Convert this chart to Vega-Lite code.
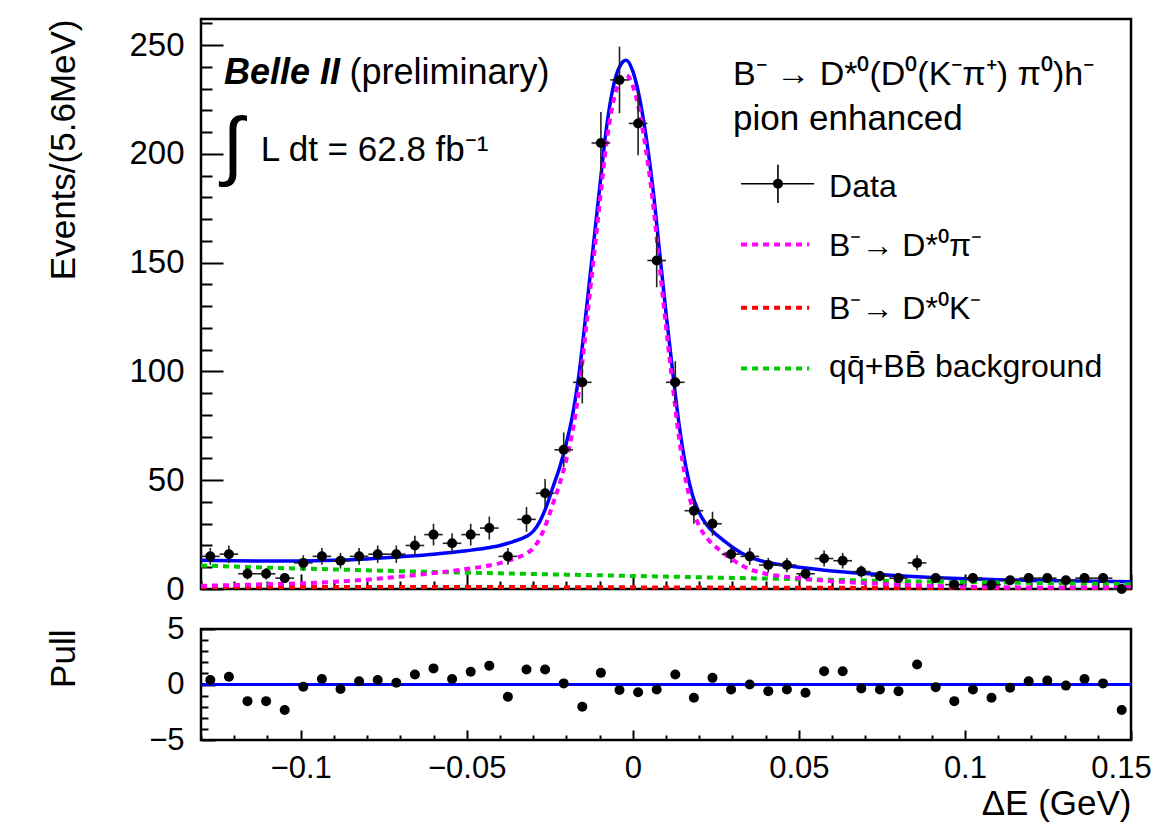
{
  "$schema": "https://vega.github.io/schema/vega-lite/v6.json",
  "padding": {"left": 44, "top": 17, "right": 0, "bottom": 0},
  "spacing": 40,
  "bounds": "flush",
  "background": "white",
  "config": {
    "font": "Liberation Sans",
    "view": {"stroke": "black", "strokeWidth": 2.5},
    "axis": {"domain": false, "grid": false, "labelFont": "Liberation Sans", "labelFontSize": 31, "labelColor": "black", "titleFont": "Liberation Sans", "titleFontSize": 35, "titleFontWeight": "normal", "titleColor": "black", "tickColor": "black", "tickWidth": 2}
  },
  "datasets": {
    "hist": [
      {"x0": -0.1300, "x1": -0.1244, "x": -0.1272, "n": 15, "err": 3.9, "pull": 0.4},
      {"x0": -0.1244, "x1": -0.1188, "x": -0.1216, "n": 16, "err": 4.0, "pull": 0.7},
      {"x0": -0.1188, "x1": -0.1132, "x": -0.1160, "n": 7, "err": 2.6, "pull": -1.5},
      {"x0": -0.1132, "x1": -0.1076, "x": -0.1104, "n": 7, "err": 2.6, "pull": -1.5},
      {"x0": -0.1076, "x1": -0.1020, "x": -0.1048, "n": 5, "err": 2.2, "pull": -2.3},
      {"x0": -0.1020, "x1": -0.0964, "x": -0.0992, "n": 12, "err": 3.5, "pull": -0.2},
      {"x0": -0.0964, "x1": -0.0908, "x": -0.0936, "n": 15, "err": 3.9, "pull": 0.5},
      {"x0": -0.0908, "x1": -0.0852, "x": -0.0880, "n": 13, "err": 3.6, "pull": -0.4},
      {"x0": -0.0852, "x1": -0.0796, "x": -0.0824, "n": 15, "err": 3.9, "pull": 0.3},
      {"x0": -0.0796, "x1": -0.0740, "x": -0.0768, "n": 16, "err": 4.0, "pull": 0.4},
      {"x0": -0.0740, "x1": -0.0684, "x": -0.0712, "n": 16, "err": 4.0, "pull": 0.15},
      {"x0": -0.0684, "x1": -0.0628, "x": -0.0656, "n": 20, "err": 4.5, "pull": 0.9},
      {"x0": -0.0628, "x1": -0.0572, "x": -0.0600, "n": 25, "err": 5.0, "pull": 1.45},
      {"x0": -0.0572, "x1": -0.0516, "x": -0.0544, "n": 21, "err": 4.6, "pull": 0.5},
      {"x0": -0.0516, "x1": -0.0460, "x": -0.0488, "n": 25, "err": 5.0, "pull": 1.15},
      {"x0": -0.0460, "x1": -0.0404, "x": -0.0432, "n": 28, "err": 5.3, "pull": 1.7},
      {"x0": -0.0404, "x1": -0.0348, "x": -0.0376, "n": 15, "err": 3.9, "pull": -1.1},
      {"x0": -0.0348, "x1": -0.0292, "x": -0.0320, "n": 32, "err": 5.7, "pull": 1.35},
      {"x0": -0.0292, "x1": -0.0236, "x": -0.0264, "n": 44, "err": 6.6, "pull": 1.35},
      {"x0": -0.0236, "x1": -0.0180, "x": -0.0208, "n": 64, "err": 8.0, "pull": 0.1},
      {"x0": -0.0180, "x1": -0.0124, "x": -0.0152, "n": 95, "err": 9.7, "pull": -2.0},
      {"x0": -0.0124, "x1": -0.0068, "x": -0.0096, "n": 205, "err": 14.3, "pull": 1.05},
      {"x0": -0.0068, "x1": -0.0012, "x": -0.0040, "n": 234, "err": 15.3, "pull": -0.5},
      {"x0": -0.0012, "x1": 0.0044, "x": 0.0016, "n": 214, "err": 14.6, "pull": -0.7},
      {"x0": 0.0044, "x1": 0.0100, "x": 0.0072, "n": 151, "err": 12.3, "pull": -0.45},
      {"x0": 0.0100, "x1": 0.0156, "x": 0.0128, "n": 95, "err": 9.7, "pull": 0.9},
      {"x0": 0.0156, "x1": 0.0212, "x": 0.0184, "n": 36, "err": 6.0, "pull": -1.2},
      {"x0": 0.0212, "x1": 0.0268, "x": 0.0240, "n": 30, "err": 5.5, "pull": 0.6},
      {"x0": 0.0268, "x1": 0.0324, "x": 0.0296, "n": 16, "err": 4.0, "pull": -0.45},
      {"x0": 0.0324, "x1": 0.0380, "x": 0.0352, "n": 15, "err": 3.9, "pull": 0.0},
      {"x0": 0.0380, "x1": 0.0436, "x": 0.0408, "n": 11, "err": 3.3, "pull": -0.6},
      {"x0": 0.0436, "x1": 0.0492, "x": 0.0464, "n": 11, "err": 3.3, "pull": -0.45},
      {"x0": 0.0492, "x1": 0.0548, "x": 0.0520, "n": 7, "err": 2.6, "pull": -0.75},
      {"x0": 0.0548, "x1": 0.0604, "x": 0.0576, "n": 14, "err": 3.7, "pull": 1.2},
      {"x0": 0.0604, "x1": 0.0660, "x": 0.0632, "n": 13, "err": 3.6, "pull": 1.2},
      {"x0": 0.0660, "x1": 0.0716, "x": 0.0688, "n": 8, "err": 2.8, "pull": -0.35},
      {"x0": 0.0716, "x1": 0.0772, "x": 0.0744, "n": 6, "err": 2.4, "pull": -0.45},
      {"x0": 0.0772, "x1": 0.0828, "x": 0.0800, "n": 5, "err": 2.2, "pull": -0.6},
      {"x0": 0.0828, "x1": 0.0884, "x": 0.0856, "n": 12, "err": 3.5, "pull": 1.8},
      {"x0": 0.0884, "x1": 0.0940, "x": 0.0912, "n": 5, "err": 2.2, "pull": -0.25},
      {"x0": 0.0940, "x1": 0.0996, "x": 0.0968, "n": 2, "err": 1.4, "pull": -1.5},
      {"x0": 0.0996, "x1": 0.1052, "x": 0.1024, "n": 5, "err": 2.2, "pull": -0.45},
      {"x0": 0.1052, "x1": 0.1108, "x": 0.1080, "n": 2, "err": 1.4, "pull": -1.2},
      {"x0": 0.1108, "x1": 0.1164, "x": 0.1136, "n": 4, "err": 2.0, "pull": -0.3},
      {"x0": 0.1164, "x1": 0.1220, "x": 0.1192, "n": 5, "err": 2.2, "pull": 0.3},
      {"x0": 0.1220, "x1": 0.1276, "x": 0.1248, "n": 5, "err": 2.2, "pull": 0.35},
      {"x0": 0.1276, "x1": 0.1332, "x": 0.1304, "n": 4, "err": 2.0, "pull": -0.1},
      {"x0": 0.1332, "x1": 0.1388, "x": 0.1360, "n": 5, "err": 2.2, "pull": 0.5},
      {"x0": 0.1388, "x1": 0.1444, "x": 0.1416, "n": 5, "err": 2.2, "pull": 0.1},
      {"x0": 0.1444, "x1": 0.1500, "x": 0.1472, "n": 0, "err": 0, "pull": -2.3}
    ],
    "curves": [
      {"x": -0.130, "total": 13.2, "sig": 1.5, "dk": 0.9, "bkg": 10.8},
      {"x": -0.120, "total": 13.0, "sig": 1.8, "dk": 0.9, "bkg": 10.3},
      {"x": -0.110, "total": 12.9, "sig": 2.2, "dk": 0.9, "bkg": 9.8},
      {"x": -0.100, "total": 12.9, "sig": 2.6, "dk": 0.9, "bkg": 9.4},
      {"x": -0.090, "total": 13.2, "sig": 3.3, "dk": 0.9, "bkg": 9.0},
      {"x": -0.080, "total": 13.8, "sig": 4.3, "dk": 0.9, "bkg": 8.6},
      {"x": -0.070, "total": 14.8, "sig": 5.7, "dk": 0.9, "bkg": 8.2},
      {"x": -0.060, "total": 16.0, "sig": 7.3, "dk": 0.9, "bkg": 7.8},
      {"x": -0.050, "total": 17.6, "sig": 9.2, "dk": 0.9, "bkg": 7.5},
      {"x": -0.045, "total": 18.6, "sig": 10.35, "dk": 0.9, "bkg": 7.35},
      {"x": -0.040, "total": 20.0, "sig": 11.9, "dk": 0.9, "bkg": 7.2},
      {"x": -0.036, "total": 21.8, "sig": 13.8, "dk": 0.9, "bkg": 7.08},
      {"x": -0.032, "total": 24.2, "sig": 16.3, "dk": 0.9, "bkg": 6.96},
      {"x": -0.030, "total": 26.5, "sig": 18.7, "dk": 0.9, "bkg": 6.9},
      {"x": -0.028, "total": 31, "sig": 23.3, "dk": 0.89, "bkg": 6.84},
      {"x": -0.026, "total": 38, "sig": 30.3, "dk": 0.88, "bkg": 6.78},
      {"x": -0.024, "total": 47, "sig": 39.4, "dk": 0.87, "bkg": 6.72},
      {"x": -0.022, "total": 56, "sig": 48.5, "dk": 0.86, "bkg": 6.66},
      {"x": -0.020, "total": 67, "sig": 59.5, "dk": 0.85, "bkg": 6.6},
      {"x": -0.018, "total": 81, "sig": 73.6, "dk": 0.84, "bkg": 6.54},
      {"x": -0.016, "total": 101, "sig": 93.7, "dk": 0.83, "bkg": 6.48},
      {"x": -0.014, "total": 128, "sig": 120.8, "dk": 0.82, "bkg": 6.42},
      {"x": -0.012, "total": 156, "sig": 148.8, "dk": 0.81, "bkg": 6.36},
      {"x": -0.010, "total": 184, "sig": 176.9, "dk": 0.8, "bkg": 6.3},
      {"x": -0.008, "total": 211, "sig": 204, "dk": 0.79, "bkg": 6.24},
      {"x": -0.006, "total": 230, "sig": 223, "dk": 0.78, "bkg": 6.18},
      {"x": -0.004, "total": 240, "sig": 233.1, "dk": 0.77, "bkg": 6.12},
      {"x": -0.002, "total": 243, "sig": 236.2, "dk": 0.76, "bkg": 6.06},
      {"x": 0.000, "total": 238, "sig": 231.3, "dk": 0.75, "bkg": 6.0},
      {"x": 0.002, "total": 226, "sig": 219.3, "dk": 0.74, "bkg": 5.94},
      {"x": 0.004, "total": 208, "sig": 201.4, "dk": 0.73, "bkg": 5.88},
      {"x": 0.006, "total": 185, "sig": 178.5, "dk": 0.72, "bkg": 5.82},
      {"x": 0.008, "total": 156, "sig": 149.5, "dk": 0.71, "bkg": 5.76},
      {"x": 0.010, "total": 127, "sig": 120.6, "dk": 0.71, "bkg": 5.7},
      {"x": 0.012, "total": 100, "sig": 93.7, "dk": 0.7, "bkg": 5.64},
      {"x": 0.014, "total": 75, "sig": 68.7, "dk": 0.7, "bkg": 5.58},
      {"x": 0.016, "total": 56, "sig": 49.8, "dk": 0.69, "bkg": 5.52},
      {"x": 0.018, "total": 43, "sig": 36.9, "dk": 0.68, "bkg": 5.46},
      {"x": 0.020, "total": 35, "sig": 28.9, "dk": 0.67, "bkg": 5.4},
      {"x": 0.022, "total": 30, "sig": 24.0, "dk": 0.67, "bkg": 5.34},
      {"x": 0.024, "total": 26.5, "sig": 20.6, "dk": 0.66, "bkg": 5.28},
      {"x": 0.026, "total": 24, "sig": 18.1, "dk": 0.65, "bkg": 5.22},
      {"x": 0.028, "total": 21.5, "sig": 15.7, "dk": 0.64, "bkg": 5.16},
      {"x": 0.030, "total": 19.2, "sig": 13.5, "dk": 0.63, "bkg": 5.1},
      {"x": 0.033, "total": 16.3, "sig": 10.7, "dk": 0.62, "bkg": 5.01},
      {"x": 0.036, "total": 14.2, "sig": 8.7, "dk": 0.61, "bkg": 4.92},
      {"x": 0.040, "total": 12.4, "sig": 7.0, "dk": 0.59, "bkg": 4.8},
      {"x": 0.045, "total": 11.0, "sig": 5.8, "dk": 0.57, "bkg": 4.65},
      {"x": 0.050, "total": 10.0, "sig": 4.95, "dk": 0.55, "bkg": 4.5},
      {"x": 0.060, "total": 8.3, "sig": 3.57, "dk": 0.53, "bkg": 4.2},
      {"x": 0.070, "total": 7.1, "sig": 2.69, "dk": 0.51, "bkg": 3.9},
      {"x": 0.080, "total": 6.1, "sig": 2.01, "dk": 0.49, "bkg": 3.6},
      {"x": 0.090, "total": 5.3, "sig": 1.43, "dk": 0.47, "bkg": 3.4},
      {"x": 0.100, "total": 4.7, "sig": 1.05, "dk": 0.45, "bkg": 3.2},
      {"x": 0.110, "total": 4.3, "sig": 0.86, "dk": 0.44, "bkg": 3.0},
      {"x": 0.120, "total": 3.95, "sig": 0.72, "dk": 0.43, "bkg": 2.8},
      {"x": 0.130, "total": 3.75, "sig": 0.73, "dk": 0.42, "bkg": 2.6},
      {"x": 0.140, "total": 3.55, "sig": 0.74, "dk": 0.41, "bkg": 2.4},
      {"x": 0.150, "total": 3.35, "sig": 0.75, "dk": 0.4, "bkg": 2.2}
    ]
  },
  "vconcat": [
    {
      "width": 930,
      "height": 570,
      "resolve": {"axis": {"x": "independent", "y": "independent"}},
      "layer": [
        {
          "layer": [
            {
              "data": {"name": "curves"},
              "mark": {"type": "line", "color": "#0000ff", "strokeWidth": 3.5, "interpolate": "monotone"},
              "encoding": {
                "x": {"field": "x", "type": "quantitative", "scale": {"domain": [-0.13, 0.15], "nice": false, "zero": false},
                  "axis": {"title": null, "labels": false, "values": [-0.1, -0.05, 0, 0.05, 0.1, 0.15], "tickSize": -15}},
                "y": {"field": "total", "type": "quantitative", "scale": {"domain": [0, 262], "nice": false, "zero": false},
                  "axis": {"title": "Events/(5.6MeV)", "labelFontSize": 33, "values": [0, 50, 100, 150, 200, 250], "tickSize": -22, "labelPadding": 39,
                    "titleX": -138, "titleY": 0, "titleAlign": "right", "titleBaseline": "middle", "titleAngle": -90}}
              }
            },
            {
              "data": {"name": "curves"},
              "mark": {"type": "line", "color": "#00c800", "strokeWidth": 4, "strokeDash": [6, 5], "interpolate": "monotone"},
              "encoding": {"x": {"field": "x", "type": "quantitative"}, "y": {"field": "bkg", "type": "quantitative", "axis": {"title": "Events/(5.6MeV)"}}}
            },
            {
              "data": {"name": "curves"},
              "mark": {"type": "line", "color": "#ff0000", "strokeWidth": 4, "strokeDash": [6, 5], "interpolate": "monotone"},
              "encoding": {"x": {"field": "x", "type": "quantitative"}, "y": {"field": "dk", "type": "quantitative", "axis": {"title": "Events/(5.6MeV)"}}}
            },
            {
              "data": {"name": "curves"},
              "mark": {"type": "line", "color": "#ff00ff", "strokeWidth": 4, "strokeDash": [6, 5], "interpolate": "monotone"},
              "encoding": {"x": {"field": "x", "type": "quantitative"}, "y": {"field": "sig", "type": "quantitative", "axis": {"title": "Events/(5.6MeV)"}}}
            },
            {
              "data": {"name": "hist"},
              "mark": {"type": "errorbar", "ticks": false, "color": "#222222", "thickness": 1.6},
              "encoding": {"x": {"field": "x", "type": "quantitative", "axis": {"title": null}}, "y": {"field": "n", "type": "quantitative", "axis": {"title": "Events/(5.6MeV)"}}, "yError": {"field": "err"}}
            },
            {
              "data": {"name": "hist"},
              "mark": {"type": "rule", "color": "#222222", "strokeWidth": 1.6},
              "encoding": {"x": {"field": "x0", "type": "quantitative", "axis": {"title": null}}, "x2": {"field": "x1"}, "y": {"field": "n", "type": "quantitative", "axis": {"title": "Events/(5.6MeV)"}}}
            },
            {
              "data": {"name": "hist"},
              "mark": {"type": "circle", "size": 100, "color": "black", "opacity": 1},
              "encoding": {"x": {"field": "x", "type": "quantitative"}, "y": {"field": "n", "type": "quantitative", "axis": {"title": "Events/(5.6MeV)"}}}
            },
            {
              "data": {"values": [{}]},
              "mark": {"type": "text", "text": "Belle II", "align": "left", "baseline": "alphabetic", "fontSize": 36, "fontWeight": "bold", "fontStyle": "italic", "font": "Liberation Sans"},
              "encoding": {"x": {"datum": -0.1231}, "y": {"datum": 232}}
            },
            {
              "data": {"values": [{}]},
              "mark": {"type": "text", "text": "(preliminary)", "align": "left", "baseline": "alphabetic", "fontSize": 36, "font": "Liberation Sans"},
              "encoding": {"x": {"datum": -0.0853}, "y": {"datum": 232}}
            },
            {
              "data": {"values": [{}]},
              "mark": {"type": "text", "text": "∫", "align": "center", "baseline": "middle", "fontSize": 76, "font": "Liberation Sans"},
              "encoding": {"x": {"datum": -0.1204}, "y": {"datum": 202.5}}
            },
            {
              "data": {"values": [{}]},
              "mark": {"type": "text", "text": "L dt = 62.8 fb⁻¹", "align": "left", "baseline": "alphabetic", "fontSize": 35, "font": "Liberation Sans"},
              "encoding": {"x": {"datum": -0.112}, "y": {"datum": 196.6}}
            },
            {
              "data": {"values": [{}]},
              "mark": {"type": "text", "text": "B⁻ → D*⁰(D⁰(K⁻π⁺) π⁰)h⁻", "align": "left", "baseline": "alphabetic", "fontSize": 34, "font": "Liberation Sans"},
              "encoding": {"x": {"datum": 0.0302}, "y": {"datum": 231.7}}
            },
            {
              "data": {"values": [{}]},
              "mark": {"type": "text", "text": "pion enhanced", "align": "left", "baseline": "alphabetic", "fontSize": 35, "font": "Liberation Sans"},
              "encoding": {"x": {"datum": 0.0302}, "y": {"datum": 210.8}}
            },
            {
              "data": {"values": [{}]},
              "mark": {"type": "rule", "color": "black", "strokeWidth": 1.6},
              "encoding": {"x": {"datum": 0.0326}, "x2": {"datum": 0.0546}, "y": {"datum": 186.3}}
            },
            {
              "data": {"values": [{}]},
              "mark": {"type": "rule", "color": "black", "strokeWidth": 1.6},
              "encoding": {"x": {"datum": 0.0437}, "y": {"datum": 177.4}, "y2": {"datum": 195}}
            },
            {
              "data": {"values": [{}]},
              "mark": {"type": "circle", "size": 100, "color": "black", "opacity": 1},
              "encoding": {"x": {"datum": 0.0437}, "y": {"datum": 186.3}}
            },
            {
              "data": {"values": [{}]},
              "mark": {"type": "text", "text": "Data", "align": "left", "baseline": "alphabetic", "fontSize": 32, "font": "Liberation Sans"},
              "encoding": {"x": {"datum": 0.0591}, "y": {"datum": 180.2}}
            },
            {
              "data": {"values": [{}]},
              "mark": {"type": "rule", "color": "#ff00ff", "strokeWidth": 4, "strokeDash": [6, 5]},
              "encoding": {"x": {"datum": 0.0326}, "x2": {"datum": 0.0531}, "y": {"datum": 158.3}}
            },
            {
              "data": {"values": [{}]},
              "mark": {"type": "text", "text": "B⁻→ D*⁰π⁻", "align": "left", "baseline": "alphabetic", "fontSize": 32, "font": "Liberation Sans"},
              "encoding": {"x": {"datum": 0.0591}, "y": {"datum": 153}}
            },
            {
              "data": {"values": [{}]},
              "mark": {"type": "rule", "color": "#ff0000", "strokeWidth": 4, "strokeDash": [6, 5]},
              "encoding": {"x": {"datum": 0.0326}, "x2": {"datum": 0.0531}, "y": {"datum": 129.3}}
            },
            {
              "data": {"values": [{}]},
              "mark": {"type": "text", "text": "B⁻→ D*⁰K⁻", "align": "left", "baseline": "alphabetic", "fontSize": 32, "font": "Liberation Sans"},
              "encoding": {"x": {"datum": 0.0591}, "y": {"datum": 123.9}}
            },
            {
              "data": {"values": [{}]},
              "mark": {"type": "rule", "color": "#00c800", "strokeWidth": 4, "strokeDash": [6, 5]},
              "encoding": {"x": {"datum": 0.0326}, "x2": {"datum": 0.0531}, "y": {"datum": 101.3}}
            },
            {
              "data": {"values": [{}]},
              "mark": {"type": "text", "text": "qq̄+BB̄ background", "align": "left", "baseline": "alphabetic", "fontSize": 32, "font": "Liberation Sans"},
              "encoding": {"x": {"datum": 0.0591}, "y": {"datum": 97.5}}
            }
          ]
        },
        {
          "data": {"name": "curves"},
          "mark": {"type": "point", "opacity": 0},
          "encoding": {
            "x": {"field": "x", "type": "quantitative", "axis": {"orient": "bottom", "title": null, "labels": false, "tickSize": -8,
              "values": [-0.13,-0.12,-0.11,-0.09,-0.08,-0.07,-0.06,-0.04,-0.03,-0.02,-0.01,0.01,0.02,0.03,0.04,0.06,0.07,0.08,0.09,0.11,0.12,0.13,0.14]}},
            "y": {"field": "total", "type": "quantitative", "axis": {"orient": "left", "title": null, "labels": false, "tickSize": -11,
              "values": [10,20,30,40,60,70,80,90,110,120,130,140,160,170,180,190,210,220,230,240,260]}}
          }
        }
      ]
    },
    {
      "width": 930,
      "height": 111,
      "resolve": {"axis": {"x": "independent", "y": "independent"}},
      "layer": [
        {
          "data": {"name": "hist"},
          "layer": [
            {
              "mark": {"type": "rule", "color": "#0000ff", "strokeWidth": 2.5},
              "encoding": {"y": {"datum": 0, "type": "quantitative", "scale": {"domain": [-5, 5], "nice": false, "zero": false}, "axis": {"title": "Pull"}}}
            },
            {
              "mark": {"type": "circle", "size": 100, "color": "black", "opacity": 1},
              "encoding": {
                "x": {"field": "x", "type": "quantitative", "scale": {"domain": [-0.13, 0.15], "nice": false, "zero": false},
                  "axis": {"title": "ΔE (GeV)", "values": [-0.1, -0.05, 0, 0.05, 0.1, 0.15], "format": ".2~f",
                    "labelOffset": {"condition": {"test": "datum.value > 0.145", "value": -10}, "value": 0},
                    "tickSize": -10, "labelPadding": 23, "labelFlush": false,
                    "titleX": 930, "titleY": 74, "titleAlign": "right", "titleBaseline": "alphabetic"}},
                "y": {"field": "pull", "type": "quantitative", "scale": {"domain": [-5, 5], "nice": false, "zero": false},
                  "axis": {"title": "Pull", "values": [-5, 0, 5], "format": "d", "tickSize": -14, "labelPadding": 31,
                    "titleX": -138, "titleY": 0, "titleAlign": "right", "titleBaseline": "middle", "titleAngle": -90}}
              }
            }
          ]
        },
        {
          "data": {"name": "hist"},
          "mark": {"type": "point", "opacity": 0},
          "encoding": {
            "x": {"field": "x", "type": "quantitative", "axis": {"orient": "bottom", "title": null, "labels": false, "tickSize": -5,
              "values": [-0.13,-0.12,-0.11,-0.09,-0.08,-0.07,-0.06,-0.04,-0.03,-0.02,-0.01,0.01,0.02,0.03,0.04,0.06,0.07,0.08,0.09,0.11,0.12,0.13,0.14]}},
            "y": {"field": "pull", "type": "quantitative", "axis": {"orient": "left", "title": null, "labels": false, "tickSize": -7,
              "values": [-4, -3, -2, -1, 1, 2, 3, 4]}}
          }
        }
      ]
    }
  ]
}
